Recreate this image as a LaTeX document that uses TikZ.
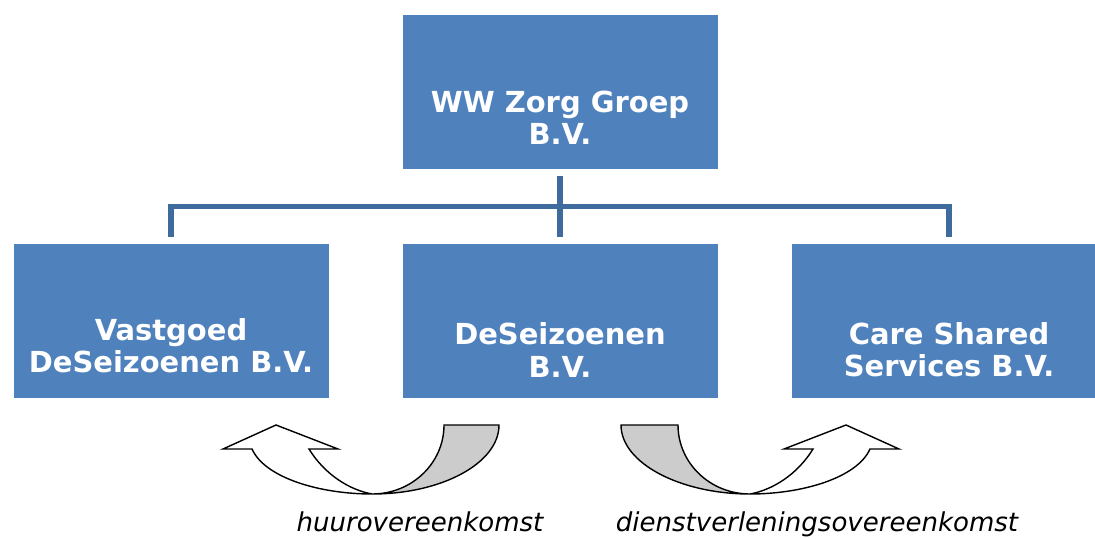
\documentclass[tikz,border=0pt]{standalone}
\usepackage{fontspec}
\setmainfont{DejaVu Sans}
\definecolor{boxblue}{RGB}{79,129,189}
\definecolor{lineblue}{RGB}{62,106,158}
\definecolor{bandgray}{RGB}{204,204,204}
\begin{document}
\begin{tikzpicture}[x=0.025cm, y=-0.025cm,
    orgbox/.style={fill=boxblue, draw=white, line width=0.5pt, minimum width=7.9cm, minimum height=3.875cm, inner sep=0pt},
    orgtext/.style={text=white, align=center, inner sep=0pt, font=\fontsize{20.6pt}{23pt}\selectfont\bfseries},
    conn/.style={draw=lineblue, line width=3.6pt},
    curvearrow/.style={draw=black, line width=1pt, line join=miter},
    deal/.style={anchor=base, inner sep=0pt, font=\fontsize{18.5pt}{22pt}\selectfont\itshape}]
            \clip (0,0) rectangle (1095,538);
            \fill[white] (0,0) rectangle (1095,538);
            % boxes
            \node[orgbox] (top) at (560,92) {};
            \node[orgbox] (vastgoed) at (171,320.5) {};
            \node[orgbox] (seizoenen) at (560,320.5) {};
            \node[orgbox] (care) at (949,320.5) {};
            \node[orgtext] (toptext) at (560,118) {WW Zorg Groep\\B.V.};
            \node[orgtext] (vastgoedtext) at (171,346) {Vastgoed\\DeSeizoenen B.V.};
            \node[orgtext] (seizoenentext) at (560,350) {DeSeizoenen\\B.V.};
            \node[orgtext] (caretext) at (949,350) {Care Shared\\Services B.V.};
            % connectors
            \coordinate (hub) at (560,206.5);
            \draw[conn] ([yshift=-4.6pt]top.south) -- ([yshift=4.3pt]seizoenen.north);
            \draw[conn] ([yshift=4.3pt]vastgoed.north) |- (hub) -| ([yshift=4.3pt]care.north);
            % curved arrows
            \filldraw[curvearrow, fill=white] (372,494) .. controls (320,494) and (265,478) .. (252,449) -- (223,449) -- (276,425) -- (338,449) -- (309,449) .. controls (325,475) and (350,490) .. (372,494) -- cycle;
            \filldraw[curvearrow, fill=bandgray] (444,425) -- (499,425) .. controls (499,463) and (442,494) .. (372,494) .. controls (412,494) and (444,463) .. (444,425) -- cycle;
            \filldraw[curvearrow, fill=white] (750,494) .. controls (802,494) and (857,478) .. (870,449) -- (899,449) -- (846,425) -- (784,449) -- (813,449) .. controls (797,475) and (772,490) .. (750,494) -- cycle;
            \filldraw[curvearrow, fill=bandgray] (678,425) -- (621,425) .. controls (621,463) and (680,494) .. (750,494) .. controls (710,494) and (678,463) .. (678,425) -- cycle;
            % labels
            \node[deal] (huur) at (420,531) {huurovereenkomst};
            \node[deal] (dienst) at (817,531) {dienstverleningsovereenkomst};
        \end{tikzpicture}
\end{document}
